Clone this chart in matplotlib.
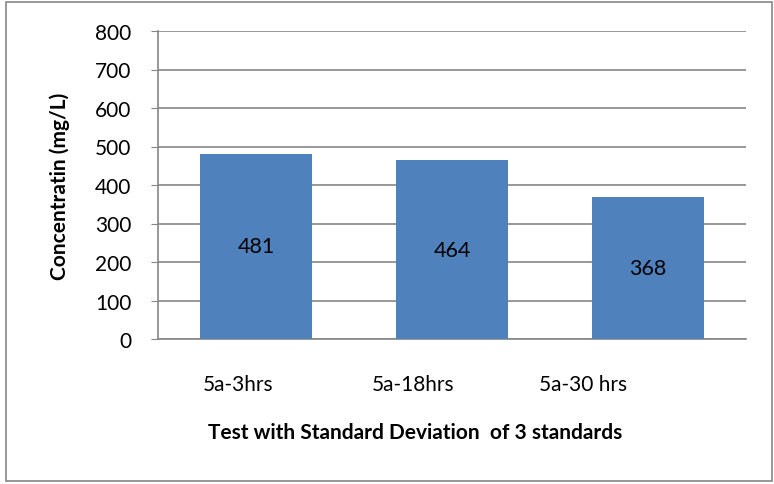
import matplotlib.pyplot as plt
import matplotlib.transforms as mtransforms
from matplotlib.patches import Rectangle

categories = ['5a-3hrs', '5a-18hrs', '5a-30 hrs']
values = [481, 464, 368]
yticks = [0, 100, 200, 300, 400, 500, 600, 700, 800]

plt.rcParams['font.family'] = ['Lato', 'DejaVu Sans']

fig = plt.figure(figsize=(7.74, 4.85), dpi=100)
# outer chart border
fig.patches.append(Rectangle((6 / 774, 3 / 485), 766 / 774, 479 / 485,
                             transform=fig.transFigure, fill=False,
                             edgecolor='#868686', linewidth=1.2))

ax = fig.add_axes([158 / 774, (485 - 340) / 485, 588 / 774, 308 / 485])
x = range(len(categories))
bars = ax.bar(x, values, width=0.57, color='#4F81BD', zorder=3)

for i, v in enumerate(values):
    ax.text(i, v / 2, str(v), ha='center', va='center', fontsize=15.5, zorder=4)

ax.set_xlim(-0.5, len(categories) - 0.5)
ax.set_ylim(0, 800)
ax.set_yticks(yticks)
ax.set_xticks(list(x))
ax.set_xticklabels(categories, fontsize=15)
ax.tick_params(axis='y', labelsize=15, length=5, color='#868686', pad=14)
ax.tick_params(axis='x', length=0, pad=25)
ax.yaxis.grid(True, color='#868686', linewidth=1.2, zorder=0)
ax.set_axisbelow(True)

# category labels sit left of the bar centres in the original
shifts = [-18, -39, -65]
for lab, dx in zip(ax.get_xticklabels(), shifts):
    lab.set_transform(lab.get_transform() +
                      mtransforms.ScaledTranslation(dx / 100, 0, fig.dpi_scale_trans))

for side in ['top', 'right']:
    ax.spines[side].set_visible(False)
for side in ['left', 'bottom']:
    ax.spines[side].set_color('#868686')
    ax.spines[side].set_linewidth(1.2)

ax.set_xlabel('Test with Standard Deviation  of 3 standards', fontsize=15,
              fontweight='bold', va='center')
ax.xaxis.set_label_coords(415 / 774, (485 - 433) / 485, transform=fig.transFigure)
ax.set_ylabel('Concentratin (mg/L)', fontsize=15, fontweight='bold', labelpad=18)

fig.savefig('out.png', dpi=100)
